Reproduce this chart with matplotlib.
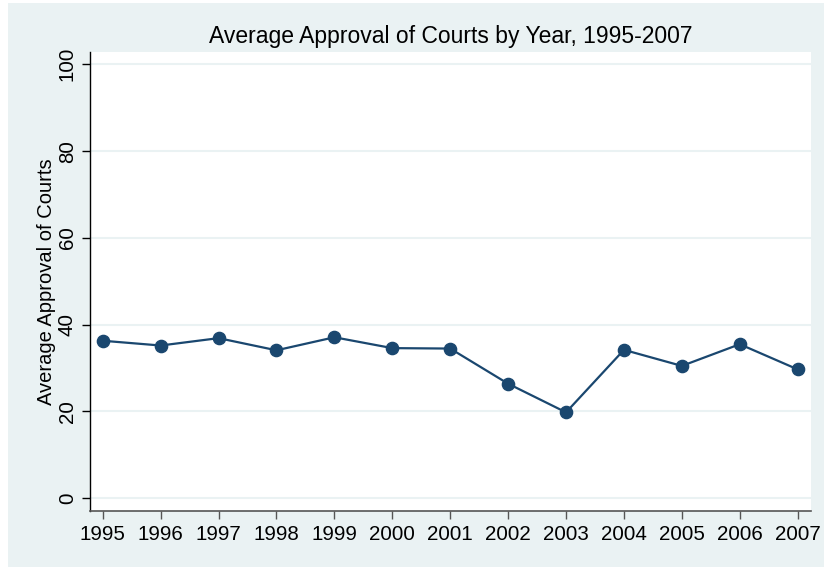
import matplotlib
matplotlib.use("Agg")
import matplotlib.pyplot as plt
from matplotlib.patches import Rectangle

years = [1995, 1996, 1997, 1998, 1999, 2000, 2001, 2002, 2003, 2004, 2005, 2006, 2007]
approval = [36.3, 35.2, 36.9, 34.1, 37.1, 34.6, 34.5, 26.4, 19.8, 34.2, 30.5, 35.5, 29.7]
yticks = [0, 20, 40, 60, 80, 100]

plt.rcParams['font.family'] = ['Liberation Sans', 'DejaVu Sans']

navy = '#1A476F'
bg = '#EAF2F3'

fig = plt.figure(figsize=(8.24, 5.67), dpi=100, facecolor='white')
bgrect = Rectangle((8/824, 0), 1 - 8/824, 1 - 3/567, transform=fig.transFigure,
                   facecolor=bg, edgecolor='none', zorder=-10)
fig.add_artist(bgrect)

ax = fig.add_axes([90/824, 1 - 510.7/567, (811 - 90)/824, (510.7 - 51.7)/567])
ax.set_zorder(1)
ax.set_facecolor('white')
ax.plot(years, approval, color=navy, linewidth=1.6, marker='o', markersize=8.8,
        markerfacecolor=navy, markeredgecolor=navy, zorder=3)

ax.set_xlim(1994.78, 2007.23)
ax.set_ylim(-2.86, 102.9)
ax.set_xticks(years)
ax.set_xticklabels([str(y) for y in years], fontsize=14.8)
ax.set_yticks(yticks)
ax.set_yticklabels([str(v) for v in yticks], fontsize=14.8, rotation=90, va='center')
ax.grid(axis='y', color=bg, linewidth=1.5, zorder=1)
ax.set_axisbelow(True)

for s in ['top', 'right']:
    ax.spines[s].set_visible(False)
ax.spines['left'].set_color('#000000')
ax.spines['bottom'].set_color('#555555')
ax.spines['left'].set_linewidth(1.0)
ax.spines['bottom'].set_linewidth(1.2)
ax.tick_params(axis='x', length=6, width=1, color='#555555', pad=4)
ax.tick_params(axis='y', length=6, width=1, color='#000000', pad=3.5)

ax.set_ylabel('Average Approval of Courts', fontsize=14.5, labelpad=1)
ax.set_title('Average Approval of Courts by Year, 1995-2007', fontsize=16.5, pad=6)

fig.savefig('out.png', dpi=100, facecolor='white')
